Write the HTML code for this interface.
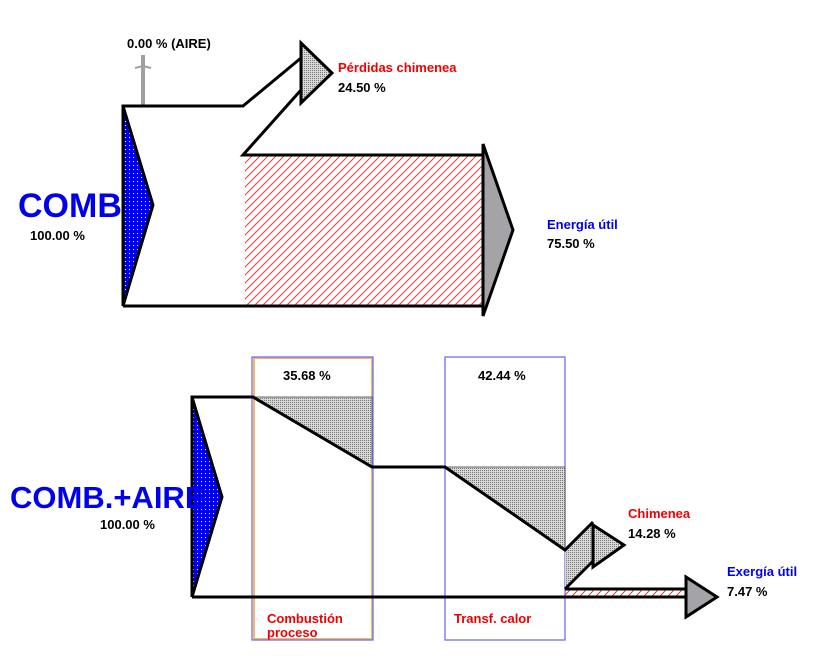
<!DOCTYPE html>
<html><head><meta charset="utf-8"><style>
body{margin:0;background:#fff;width:820px;height:655px;overflow:hidden}
svg text{font-family:"Liberation Sans",sans-serif;font-weight:bold}
</style></head><body>
<svg width="820" height="655" viewBox="0 0 820 655">
<defs>
<pattern id="dots" width="4" height="4" patternUnits="userSpaceOnUse"><rect width="4" height="4" fill="#0000ee"/><rect x="1" y="1" width="1" height="1" fill="#fff"/></pattern>
<pattern id="gdots" width="2" height="2" patternUnits="userSpaceOnUse"><rect width="2" height="2" fill="#d8d8d8"/><rect width="1" height="1" fill="#777"/></pattern>
<pattern id="hatch" width="8" height="8" patternUnits="userSpaceOnUse"><path d="M-1,9 L9,-1 M-1,1 L1,-1 M7,9 L9,7" stroke="#ff2020" stroke-width="0.9"/></pattern>
</defs>
<!-- TOP -->
<line x1="143" y1="55" x2="143" y2="106" stroke="#a0a0a0" stroke-width="4"/>
<polyline points="135,68 143,66 151,68" fill="none" stroke="#a0a0a0" stroke-width="2"/>
<rect x="245" y="155" width="238" height="151" fill="url(#hatch)"/>
<polygon points="123,106 153,205 123,306" fill="url(#dots)" stroke="#000" stroke-width="3"/>
<polygon points="301,43 332,73 301,103" fill="url(#gdots)" stroke="#000" stroke-width="3"/>
<polygon points="483,144 513,230 483,316" fill="#a4a4a8" stroke="#000" stroke-width="3"/>
<polyline points="123,306 123,106 243,106 301,58" fill="none" stroke="#000" stroke-width="3"/>
<polyline points="301,90 243,155 483,155" fill="none" stroke="#000" stroke-width="3"/>
<line x1="123" y1="306" x2="483" y2="306" stroke="#000" stroke-width="3"/>
<text x="127" y="48" font-size="13">0.00 % (AIRE)</text>
<text x="338" y="72" font-size="13" fill="#ee0000">Pérdidas chimenea</text>
<text x="338" y="92" font-size="13">24.50 %</text>
<text x="18" y="217" font-size="34" fill="#0000ee">COMB</text>
<text x="30" y="240" font-size="13">100.00 %</text>
<text x="547" y="229" font-size="13" fill="#0000ee">Energía útil</text>
<text x="547" y="248" font-size="13">75.50 %</text>
<!-- BOTTOM -->
<rect x="254" y="358" width="118" height="281" fill="none" stroke="#f4b860" stroke-width="2"/>
<rect x="252" y="357" width="121" height="283" fill="none" stroke="#7070ee" stroke-width="1.3"/>
<rect x="445" y="357" width="120" height="283" fill="none" stroke="#7070ee" stroke-width="1.3"/>
<polygon points="253,397 372,397 372,467" fill="url(#gdots)" stroke="#666" stroke-width="1"/>
<polygon points="445,467 565,467 565,550" fill="url(#gdots)" stroke="#666" stroke-width="1"/>
<polygon points="565,550 593,522 593,558 565,588" fill="url(#gdots)"/>
<rect x="565" y="589" width="121" height="8" fill="url(#hatch)"/>
<polygon points="192,397 222,497 192,597" fill="url(#dots)" stroke="#000" stroke-width="3"/>
<polyline points="192,597 192,397 253,397 372,467 445,467 565,550 593,522" fill="none" stroke="#000" stroke-width="3"/>
<polygon points="593,525 624,545 593,567" fill="url(#gdots)" stroke="#000" stroke-width="3"/>
<line x1="565" y1="589" x2="593" y2="561" stroke="#000" stroke-width="3"/>
<line x1="565" y1="589" x2="686" y2="589" stroke="#000" stroke-width="3"/>
<line x1="192" y1="597" x2="686" y2="597" stroke="#000" stroke-width="3"/>
<polygon points="686,577 717,597 686,617" fill="#a4a4a8" stroke="#000" stroke-width="3"/>
<text x="283" y="380" font-size="13">35.68 %</text>
<text x="478" y="380" font-size="13">42.44 %</text>
<text x="10" y="508" font-size="31" fill="#0000ee">COMB.+AIRE</text>
<text x="100" y="529" font-size="13">100.00 %</text>
<text x="628" y="518" font-size="13" fill="#ee0000">Chimenea</text>
<text x="628" y="538" font-size="13">14.28 %</text>
<text x="727" y="576" font-size="13" fill="#0000ee">Exergía útil</text>
<text x="727" y="596" font-size="13">7.47 %</text>
<text x="267" y="623" font-size="13" fill="#ee0000">Combustión</text>
<text x="267" y="637" font-size="13" fill="#ee0000">proceso</text>
<text x="454" y="623" font-size="13" fill="#ee0000">Transf. calor</text>
</svg>
</body></html>
